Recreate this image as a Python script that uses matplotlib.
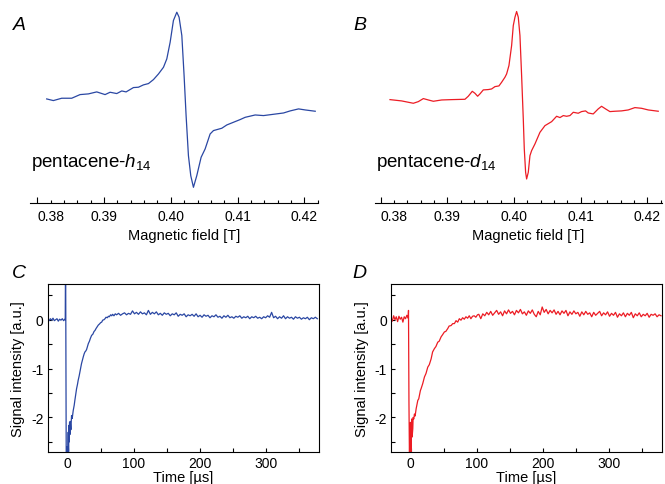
import matplotlib
matplotlib.use("Agg")
import matplotlib.pyplot as plt
from matplotlib.ticker import MultipleLocator, FixedLocator

plt.rcParams['font.family'] = ['Liberation Sans', 'DejaVu Sans']
plt.rcParams['axes.unicode_minus'] = False
plt.rcParams['mathtext.fontset'] = 'custom'
plt.rcParams['mathtext.rm'] = 'Liberation Sans'
plt.rcParams['mathtext.it'] = 'Liberation Sans:italic'

BLUE = '#2a47a3'
RED = '#ec1c24'

# ---- ESR spectra (A, B) ----
field_h14 = [0.38140, 0.38240, 0.38365, 0.38515, 0.38640, 0.38765, 0.38890, 0.39015,
             0.39090, 0.39190, 0.39265, 0.39330, 0.39440, 0.39515, 0.39590, 0.39665,
             0.39740, 0.39815, 0.39890, 0.39940, 0.39990, 0.40039, 0.40090, 0.40124,
             0.40165, 0.40199, 0.40229, 0.40264, 0.40299, 0.40339, 0.40389, 0.40454,
             0.40514, 0.40589, 0.40639, 0.40764, 0.40839, 0.40939, 0.41039, 0.41114,
             0.41264, 0.41389, 0.41539, 0.41689, 0.41789, 0.41914, 0.42014, 0.42164]
esr_h14 = [0.000, -0.019, 0.008, 0.008, 0.050, 0.058, 0.081, 0.050,
           0.077, 0.062, 0.092, 0.081, 0.131, 0.135, 0.162, 0.177,
           0.223, 0.288, 0.365, 0.462, 0.654, 0.904, 1.000, 0.942,
           0.731, 0.269, -0.192, -0.654, -0.885, -1.019, -0.885, -0.673,
           -0.577, -0.404, -0.365, -0.338, -0.300, -0.269, -0.238, -0.212,
           -0.185, -0.192, -0.177, -0.162, -0.138, -0.115, -0.127, -0.142]

field_d14 = [0.38140, 0.38315, 0.38490, 0.38565, 0.38640, 0.38715, 0.38790, 0.38915,
             0.39064, 0.39264, 0.39314, 0.39374, 0.39414, 0.39454, 0.39489, 0.39539,
             0.39614, 0.39664, 0.39714, 0.39774, 0.39814, 0.39864, 0.39889, 0.39924,
             0.39964, 0.39989, 0.40014, 0.40039, 0.40064, 0.40089, 0.40114, 0.40139,
             0.40154, 0.40174, 0.40189, 0.40214, 0.40239, 0.40264, 0.40314, 0.40389,
             0.40464, 0.40564, 0.40639, 0.40689, 0.40739, 0.40789, 0.40839, 0.40889,
             0.40963, 0.41013, 0.41073, 0.41113, 0.41188, 0.41263, 0.41313, 0.41373,
             0.41438, 0.41513, 0.41613, 0.41713, 0.41813, 0.41913, 0.42013, 0.42163]
esr_d14 = [-0.008, -0.023, -0.050, -0.031, 0.004, -0.012, -0.027, -0.012,
           -0.008, -0.004, 0.031, 0.088, 0.065, 0.031, 0.058, 0.104,
           0.108, 0.115, 0.142, 0.150, 0.192, 0.250, 0.288, 0.385,
           0.615, 0.846, 0.942, 1.008, 0.942, 0.731, 0.269, -0.231,
           -0.577, -0.846, -0.923, -0.846, -0.654, -0.596, -0.519, -0.385,
           -0.308, -0.262, -0.200, -0.215, -0.192, -0.200, -0.192, -0.154,
           -0.165, -0.146, -0.138, -0.162, -0.173, -0.115, -0.085, -0.115,
           -0.146, -0.142, -0.138, -0.127, -0.100, -0.108, -0.127, -0.142]

field_ticks = [0.38, 0.39, 0.40, 0.41, 0.42]

# ---- time traces (C, D) ----
time_h14 = ([-30, -28, -26, -24, -22, -20, -18, -16, -14, -12, -10, -8, -6, -4]
            + [-3.5, -3.0, -2.0, -1.0, 0, 1, 1.5, 2, 2.5, 3, 3.5, 4, 5, 6, 7, 8.5, 10, 11,
               12.5, 13.6, 15, 16, 17.5, 18.6, 20, 21, 22.5, 23.7, 25, 26.2, 27.5, 28.7,
               30, 31.3, 33, 34.5, 36.3, 38, 40, 41.4, 43, 45, 46.4, 48, 50, 51.5, 53, 55,
               56.5, 58, 60, 61.6, 63, 65, 66.6, 68, 70, 72]
            + [74, 77, 80, 83, 86, 89, 92, 95, 98, 101,
               104, 107, 110, 113, 116, 119, 122, 125, 128, 131,
               134, 137, 140, 143, 146, 149, 152, 155, 158, 161,
               164, 167, 170, 173, 176, 179, 182, 185, 188, 191,
               194, 197, 200, 203, 206, 209, 212, 215, 218, 221,
               224, 227, 230, 233, 236, 239, 242, 245, 248, 251,
               254, 257, 260, 263, 266, 269, 272, 275, 278, 281,
               284, 287, 290, 293, 296, 299, 302, 305, 308, 311,
               314, 317, 320, 323, 326, 329, 332, 335, 338, 341,
               344, 347, 350, 353, 356, 359, 362, 365, 368, 371,
               374, 377])
trace_h14 = ([0.01, -0.02, 0.02, -0.01, 0.03, -0.02, 0.00, 0.02, -0.03, 0.01, -0.01, 0.02, -0.02, 0.01]
             + [0.0, 1.5, -3.0, -2.6, -2.9, -2.3, -2.7, -2.16, -2.5, -2.1, -2.35, -2.08, -2.25,
                -1.96, -2.02, -1.86, -1.75, -1.65, -1.52, -1.41, -1.32, -1.24, -1.15, -1.07,
                -0.98, -0.90, -0.82, -0.76, -0.70, -0.66, -0.64, -0.61, -0.55, -0.49, -0.44,
                -0.38, -0.32, -0.30, -0.24, -0.22, -0.18, -0.14, -0.11, -0.09, -0.06, -0.05,
                -0.01, 0.00, 0.02, 0.05, 0.04, 0.07, 0.06, 0.10, 0.08, 0.11, 0.08, 0.12]
             + [0.10, 0.13, 0.09, 0.12, 0.14, 0.10, 0.13, 0.11, 0.18, 0.12,
                0.15, 0.11, 0.16, 0.12, 0.14, 0.10, 0.19, 0.11, 0.15, 0.12,
                0.16, 0.10, 0.13, 0.09, 0.14, 0.11, 0.13, 0.08, 0.12, 0.10,
                0.14, 0.07, 0.11, 0.09, 0.12, 0.06, 0.10, 0.08, 0.11, 0.07,
                0.12, 0.06, 0.09, 0.05, 0.10, 0.07, 0.09, 0.04, 0.08, 0.06,
                0.10, 0.05, 0.07, 0.03, 0.08, 0.05, 0.09, 0.04, 0.06, 0.03,
                0.07, 0.05, 0.08, 0.03, 0.06, 0.04, 0.07, 0.02, 0.06, 0.04,
                0.07, 0.03, 0.05, 0.02, 0.06, 0.04, 0.08, 0.05, 0.15, 0.04,
                0.07, 0.02, 0.06, 0.03, 0.08, 0.02, 0.06, 0.03, 0.05, 0.01,
                0.06, 0.03, 0.05, 0.01, 0.04, 0.02, 0.05, 0.00, 0.04, 0.02,
                0.05, 0.02])

time_d14 = ([-30, -28, -26, -24, -22, -20, -18, -16, -14, -12, -10, -8, -6, -4]
            + [-3.5, -3.2, -2.8, -2.0, -1.5, -1.0, -0.5, 0, 0.5, 1, 1.5, 2, 3, 3.5, 4.5, 5.5,
               6.5, 8.1, 9.5, 10.6, 12, 13.1, 14.5, 15.6, 18, 20.7, 23, 25.7, 28, 30.8, 33,
               35.8, 38, 40.8, 43, 45.9, 48, 50.9, 53, 56, 58, 61, 63.5, 66, 68.5, 71, 73.5,
               76, 78.5, 81, 83.5, 86, 88.5, 91, 93.5, 96, 98.5, 101]
            + [103, 106, 109, 112, 115, 118, 121, 124, 127, 130,
               133, 136, 139, 142, 145, 148, 151, 154, 157, 160,
               163, 166, 169, 172, 175, 178, 181, 184, 187, 190,
               193, 196, 199, 202, 205, 208, 211, 214, 217, 220,
               223, 226, 229, 232, 235, 238, 241, 244, 247, 250,
               253, 256, 259, 262, 265, 268, 271, 274, 277, 280,
               283, 286, 289, 292, 295, 298, 301, 304, 307, 310,
               313, 316, 319, 322, 325, 328, 331, 334, 337, 340,
               343, 346, 349, 352, 355, 358, 361, 364, 367, 370,
               373, 376, 379])
trace_d14 = ([0.04, -0.03, 0.08, 0.00, 0.06, -0.04, 0.07, 0.01, 0.05, -0.05, 0.06, 0.02, 0.09, 0.03]
             + [0.19, -0.6, -1.7, -2.9, -2.2, -2.9, -2.1, -2.8, -2.6, -2.2, -2.03, -2.4, -2.23,
                -2.0, -2.03, -1.93, -1.97, -1.82, -1.72, -1.65, -1.62, -1.55, -1.45, -1.41,
                -1.31, -1.17, -1.10, -0.97, -0.92, -0.80, -0.66, -0.59, -0.55, -0.46, -0.44,
                -0.35, -0.31, -0.25, -0.24, -0.18, -0.13, -0.12, -0.08, -0.08, -0.02, -0.05,
                0.02, -0.01, 0.04, 0.01, 0.06, 0.03, 0.08, 0.02, 0.07, 0.08, 0.05, 0.10]
             + [0.11, 0.02, 0.12, 0.08, 0.15, 0.10, 0.17, 0.09, 0.14, 0.19,
                0.11, 0.16, 0.08, 0.18, 0.12, 0.20, 0.13, 0.17, 0.10, 0.19,
                0.14, 0.21, 0.12, 0.16, 0.09, 0.18, 0.13, 0.20, 0.11, 0.06,
                0.17, 0.10, 0.26, 0.15, 0.21, 0.12, 0.19, 0.14, 0.20, 0.11,
                0.17, 0.10, 0.18, 0.13, 0.19, 0.08, 0.16, 0.11, 0.18, 0.12,
                0.15, 0.07, 0.16, 0.10, 0.17, 0.11, 0.14, 0.06, 0.15, 0.09,
                0.13, 0.17, 0.08, 0.14, 0.10, 0.16, 0.07, 0.13, 0.09, 0.15,
                0.05, 0.12, 0.08, 0.14, 0.06, 0.13, 0.09, 0.15, 0.04, 0.12,
                0.08, 0.14, 0.06, 0.11, 0.08, 0.13, 0.05, 0.11, 0.09, 0.12,
                0.06, 0.10, 0.08])

W, H = 665, 485


def px_axes(left, top, right, bottom):
    return fig.add_axes([left / W, 1 - bottom / H, (right - left) / W, (bottom - top) / H])


def style_esr(ax, xlim, label, color, x, y):
    ax.plot(x, y, color=color, lw=0.9)
    ax.set_xlim(*xlim)
    ax.set_ylim(-1.2, 1.06)
    for s in ['top', 'right', 'left']:
        ax.spines[s].set_visible(False)
    ax.spines['bottom'].set_linewidth(0.8)
    ax.set_yticks([])
    ax.xaxis.set_major_locator(FixedLocator(field_ticks))
    ax.xaxis.set_minor_locator(MultipleLocator(0.002))
    ax.tick_params(axis='x', which='major', direction='in', length=4.5, width=0.8,
                   labelsize=10, pad=4)
    ax.tick_params(axis='x', which='minor', direction='in', length=2.2, width=0.8)
    ax.set_xticklabels([f'{v:.2f}' for v in field_ticks])
    ax.get_xticklabels()[0].set_horizontalalignment('left')
    ax.set_xlabel('Magnetic field [T]', fontsize=10.5, labelpad=2)
    ax.xaxis.set_label_coords(0.533, -0.13)
    ax.text(0.005, 0.19, label, transform=ax.transAxes, fontsize=13.5, va='baseline')


def style_trace(ax, x, y, color):
    ax.plot(x, y, color=color, lw=0.9)
    ax.set_xlim(-30, 380)
    ax.set_ylim(-2.7, 0.73)
    for s in ax.spines.values():
        s.set_linewidth(0.8)
    ax.xaxis.set_major_locator(MultipleLocator(100))
    ax.xaxis.set_minor_locator(MultipleLocator(50))
    ax.yaxis.set_major_locator(MultipleLocator(1))
    ax.yaxis.set_minor_locator(MultipleLocator(0.5))
    ax.tick_params(which='both', direction='in', length=3, width=0.8, labelsize=10)
    ax.tick_params(axis='y', pad=3)
    ax.tick_params(axis='x', pad=3)
    ax.set_xlabel('Time [µs]', fontsize=10.5, labelpad=0)
    ax.set_ylabel('Signal intensity [a.u.]', fontsize=10.5, labelpad=4)


fig = plt.figure(figsize=(6.65, 4.85), dpi=100)

axA = px_axes(30, 8, 318.3, 204)
style_esr(axA, (0.3789, 0.4221), r'pentacene-$\mathit{h}_{14}$', BLUE, field_h14, esr_h14)
axB = px_axes(375, 8, 661.7, 204)
style_esr(axB, (0.37915, 0.42215), r'pentacene-$\mathit{d}_{14}$', RED, field_d14, esr_d14)

axC = px_axes(47.7, 285, 319.3, 452.7)
style_trace(axC, time_h14, trace_h14, BLUE)
axD = px_axes(391, 285, 661.7, 452.7)
style_trace(axD, time_d14, trace_d14, RED)

for lab, x, y in [('A', 13, 30), ('B', 353, 30), ('C', 12, 278), ('D', 352, 278)]:
    fig.text(x / W, 1 - y / H, lab, fontsize=14, style='italic', va='baseline')

fig.savefig('out.png', dpi=100)
